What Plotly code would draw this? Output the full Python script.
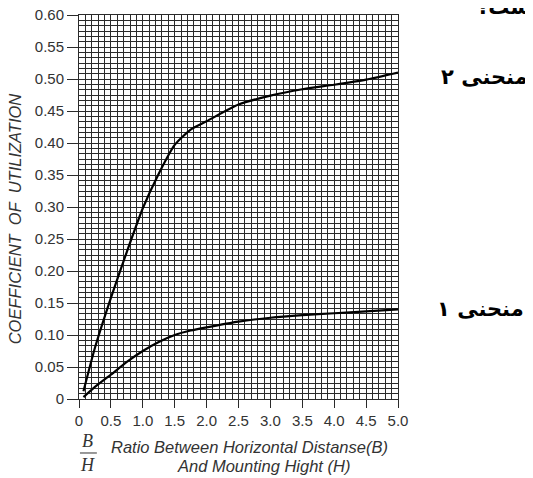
import plotly.graph_objects as go

# Curve data
curve2_x = [0.07, 0.25, 0.5, 0.75, 1.0, 1.25, 1.5, 1.75, 2.0, 2.5, 3.0, 3.5, 4.0, 4.5, 5.0]
curve2_y = [0.012, 0.080, 0.158, 0.230, 0.298, 0.352, 0.397, 0.421, 0.434, 0.460, 0.474, 0.484, 0.491, 0.499, 0.510]

curve1_x = [0.07, 0.25, 0.5, 0.75, 1.0, 1.25, 1.5, 1.75, 2.0, 2.5, 3.0, 3.5, 4.0, 4.5, 5.0]
curve1_y = [0.003, 0.019, 0.038, 0.058, 0.075, 0.089, 0.100, 0.107, 0.112, 0.121, 0.127, 0.131, 0.134, 0.137, 0.140]

x_tickvals = [0, 0.5, 1.0, 1.5, 2.0, 2.5, 3.0, 3.5, 4.0, 4.5, 5.0]
x_ticktext = ["0", "0.5", "1.0", "1.5", "2.0", "2.5", "3.0", "3.5", "4.0", "4.5", "5.0"]
y_tickvals = [0, 0.05, 0.10, 0.15, 0.20, 0.25, 0.30, 0.35, 0.40, 0.45, 0.50, 0.55, 0.60]
y_ticktext = ["0", "0.05", "0.10", "0.15", "0.20", "0.25", "0.30", "0.35", "0.40", "0.45", "0.50", "0.55", "0.60"]

y_title = "COEFFICIENT  OF  UTILIZATION"
x_title_1 = "Ratio Between Horizontal Distanse(B)"
x_title_2 = "And Mounting Hight (H)"
label_curve2 = "منحنی ۲"
label_curve1 = "منحنی ۱"
top_fragment = "ست؟"

GRID = "#2a2a2a"
TXT = "#333333"
tick_font = dict(family="Liberation Sans Narrow, Liberation Sans, Arial", size=15, color=TXT)

fig = go.Figure()
fig.add_trace(go.Scatter(x=curve2_x, y=curve2_y, mode="lines",
                         line=dict(color="black", width=2.2, shape="spline", smoothing=0.6),
                         showlegend=False, hoverinfo="skip"))
fig.add_trace(go.Scatter(x=curve1_x, y=curve1_y, mode="lines",
                         line=dict(color="black", width=2.2, shape="spline", smoothing=0.6),
                         showlegend=False, hoverinfo="skip"))

# page body has an 8px margin, so margins are shifted to place the plot area like the reference
fig.update_layout(
    width=533, height=478,
    margin=dict(l=71, r=143, t=7, b=87, autoexpand=False),
    paper_bgcolor="white", plot_bgcolor="white",
    xaxis=dict(range=[0, 5], tickvals=x_tickvals, ticktext=x_ticktext,
               ticks="outside", ticklen=8, tickcolor=GRID, tickwidth=1,
               showgrid=True, gridcolor=GRID, gridwidth=1,
               minor=dict(dtick=0.1, tick0=0, showgrid=True, gridcolor=GRID, gridwidth=1),
               showline=True, linecolor=GRID, linewidth=1, mirror=True,
               zeroline=False, tickfont=tick_font, ticklabeloverflow="allow",
               automargin=False),
    yaxis=dict(range=[0, 0.6], tickvals=y_tickvals, ticktext=y_ticktext,
               ticks="outside", ticklen=11, tickcolor=GRID, tickwidth=1,
               showgrid=True, gridcolor=GRID, gridwidth=1,
               minor=dict(dtick=0.05 / 6, tick0=0, showgrid=True, gridcolor=GRID, gridwidth=1),
               showline=True, linecolor=GRID, linewidth=1, mirror=True,
               zeroline=False, tickfont=tick_font, ticklabeloverflow="allow",
               automargin=False),
)

ital_y = dict(family="Liberation Sans, Arial", size=16.5, color=TXT, style="italic")
ital = dict(family="Liberation Sans, Arial", size=16.5, color=TXT, style="italic")
serif_ital = dict(family="Liberation Serif, Times New Roman", size=18, color=TXT, style="italic")
arab = dict(family="DejaVu Sans", size=21, color="black", weight="bold")

anns = [
    dict(text=y_title, x=-0.2006, y=0.468, textangle=-90, font=ital_y),
    dict(text=x_title_1, x=0.536, y=-0.125, font=ital),
    dict(text=x_title_2, x=0.577, y=-0.1745, font=ital),
    dict(text="B", x=0.028, y=-0.109, font=serif_ital),
    dict(text="H", x=0.028, y=-0.172, font=serif_ital),
]
for a in anns:
    a.update(xref="paper", yref="paper", showarrow=False, xanchor="center", yanchor="middle")
    fig.add_annotation(**a)

for txt, xr, yc in [(label_curve2, 1.414, 0.8385), (label_curve1, 1.401, 0.234)]:
    fig.add_annotation(text=txt, x=xr, y=yc, xref="paper", yref="paper", showarrow=False,
                       xanchor="right", yanchor="middle", font=arab)

fig.add_annotation(text=top_fragment, x=1.423, y=0.985, xref="paper", yref="paper",
                   showarrow=False, xanchor="right", yanchor="bottom", font=arab)

fig.add_shape(type="line", xref="paper", yref="paper", x0=0.003, x1=0.056,
              y0=-0.1406, y1=-0.1406, line=dict(color=TXT, width=1))

fig.write_html("out.html")
